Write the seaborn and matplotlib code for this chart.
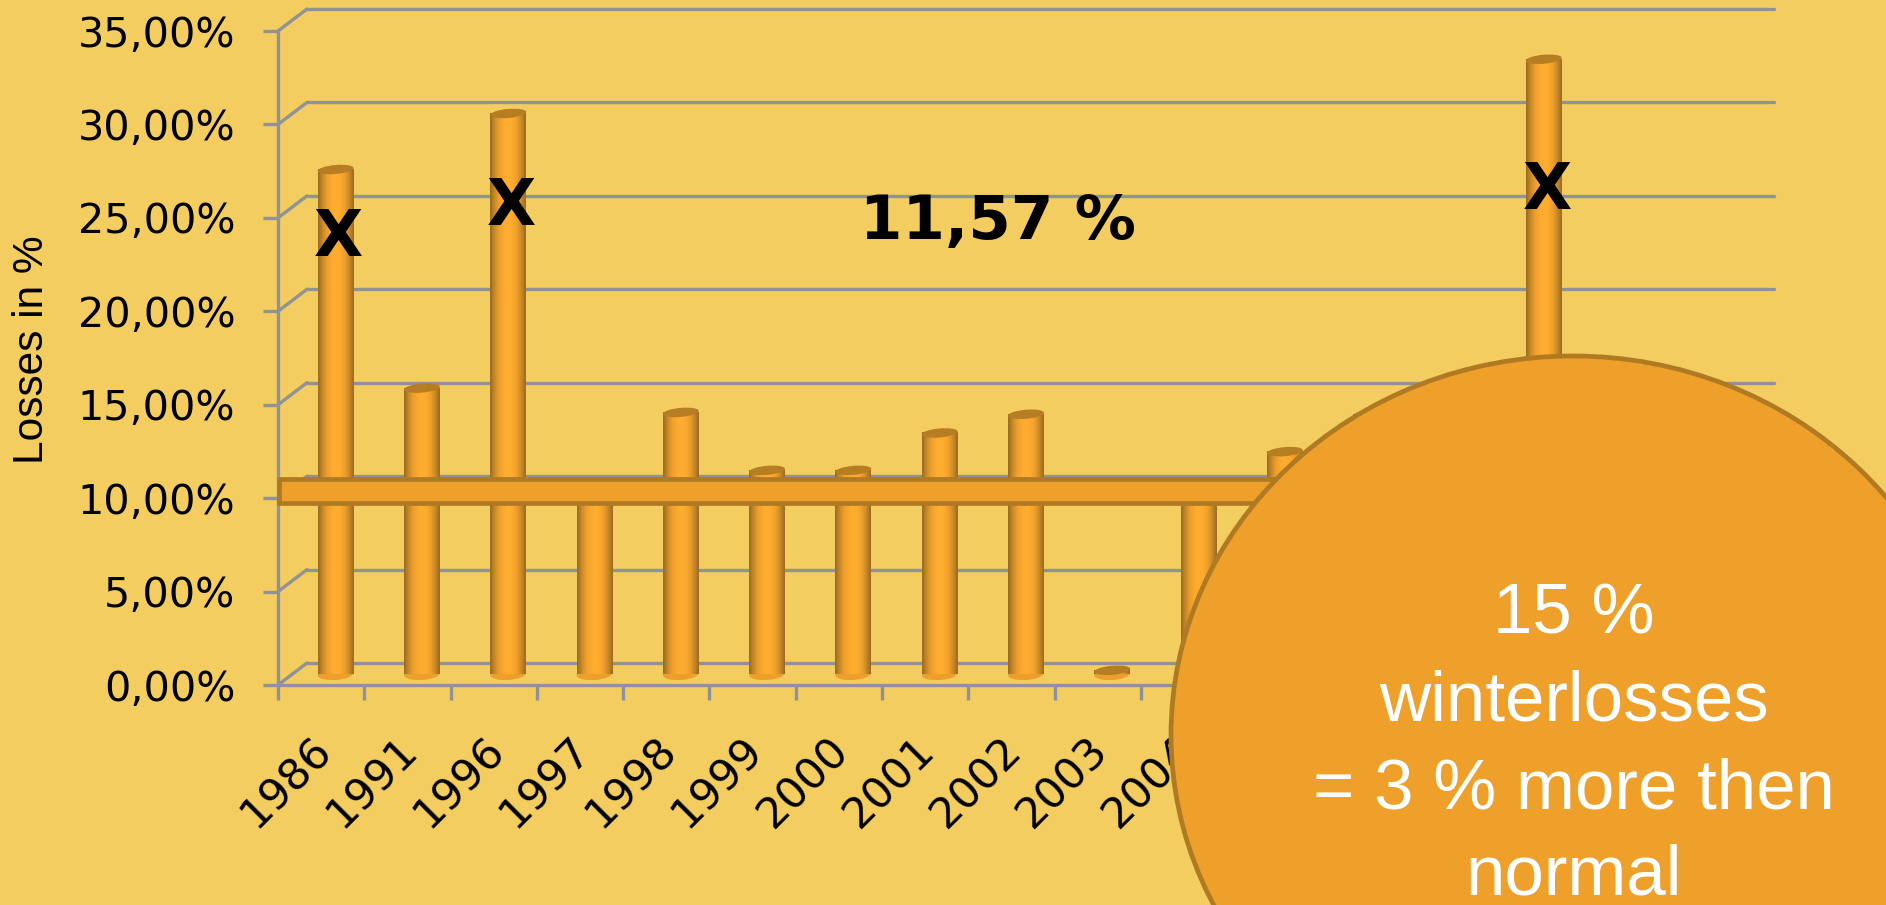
import numpy as np
import pandas as pd
import seaborn as sns
import matplotlib.pyplot as plt
from matplotlib.patches import Ellipse, Rectangle
from matplotlib.transforms import Affine2D, IdentityTransform

years = ['1986', '1991', '1996', '1997', '1998', '1999', '2000', '2001', '2002',
         '2003', '2004', '2005', '2006', '2007', '2008', '2009', '2010']
losses = [27.0, 15.3, 30.0, 10.2, 14.0, 10.9, 10.9, 12.9, 13.9,
          0.2, 10.2, 11.9, 13.9, 12.0, 32.9, 9.0, 11.0]
y_ticks = [0, 5, 10, 15, 20, 25, 30, 35]
y_labels = ['0,00%', '5,00%', '10,00%', '15,00%', '20,00%', '25,00%', '30,00%', '35,00%']
marked = ['1986', '1996', '2008']
mark_pos = [(338, 238), (511, 207), (1547, 191)]
circle_lines = ['15 %', 'winterlosses', '= 3 % more then', 'normal']
circle_line_y = [615, 702, 790, 876]

W, H = 1886, 905
BG = '#F3CD60'
GREY = '#8F9296'
ORANGE = '#EEA02B'
BROWN = '#B07A22'

sns.set_theme(style='white')
plt.rcParams['font.family'] = ['DejaVu Sans']

fig = plt.figure(figsize=(W / 100, H / 100), dpi=100, facecolor=BG)
ax = fig.add_axes([278 / W, 1 - 685 / H, (1745 - 278) / W, (685 - 31) / H], facecolor='none')

df = pd.DataFrame({'year': years, 'loss': losses})
sns.barplot(data=df, x='year', y='loss', width=0.417, color=ORANGE, ax=ax, zorder=3)
ax.set_xlim(-0.5, 16.5)
ax.set_ylim(0, 35)

# walls of the 3d box, offset in pixels from the front plane
depth = Affine2D().translate(29, 22)
half_depth = Affine2D().translate(14.5, 11)
back = ax.transData + depth
for v in y_ticks:
    ax.plot([-0.5, 16.5], [v, v], color=GREY, lw=2.4, transform=back, clip_on=False, zorder=1)
    x0, y0 = ax.transData.transform((-0.5, v))
    ax.plot([x0, x0 + 29], [y0, y0 + 22], color=GREY, lw=2.4,
            transform=IdentityTransform(), clip_on=False, zorder=1)

# cylinders
stops = ['#9C6B22', '#C98A28', '#EE9F2C', '#FAA92F', '#FFAE30', '#FCAB2F', '#EE9F2C', '#C98A28', '#9C6B22']
gradient = np.array(sns.blend_palette(stops, 60))[None, :, :]
shifted = ax.transData + half_depth
for bar, v in zip(ax.patches, losses):
    cx = bar.get_x() + bar.get_width() / 2
    px, py = shifted.transform((cx, 0))
    tx, ty = shifted.transform((cx, v))
    bar_w = shifted.transform((bar.get_x() + bar.get_width(), 0))[0] - shifted.transform((bar.get_x(), 0))[0]
    bar.set_visible(False)
    ax.add_patch(Ellipse((px, py), bar_w, 12, angle=4, color='#EE9F2B', lw=0,
                         transform=IdentityTransform(), clip_on=False, zorder=2))
    im = ax.imshow(gradient, extent=(bar.get_x(), bar.get_x() + bar.get_width(), 0, v),
                   aspect='auto', transform=shifted, zorder=3, interpolation='bilinear')
    im.set_clip_on(False)
    ax.add_patch(Ellipse((tx, ty), bar_w, 9, angle=5, color='#B67D22', lw=0,
                         transform=IdentityTransform(), clip_on=False, zorder=3.5))
ax.set_xlim(-0.5, 16.5)
ax.set_ylim(0, 35)
ax.set_aspect('auto')

# axes
sns.despine(ax=ax)
for side in ['left', 'bottom']:
    ax.spines[side].set_color(GREY)
    ax.spines[side].set_linewidth(2.4)
ax.set_xlabel('')
ax.set_ylabel('')
ax.set_yticks(y_ticks)
ax.set_yticklabels(y_labels)
ax.tick_params(axis='y', left=True, length=10.8, width=2.4, color=GREY, pad=20,
               labelsize=29.7, labelcolor='black')
ax.set_xticks(np.arange(18) - 0.5)
ax.set_xticklabels([])
ax.set_xticks(np.arange(17), labels=years, minor=True)
ax.tick_params(axis='x', which='major', bottom=True, length=10.8, width=2.4, color=GREY)
ax.tick_params(axis='x', which='minor', bottom=False, length=0, pad=70, labelsize=31,
               labelcolor='black')
for label in ax.get_xticklabels(minor=True):
    label.set_rotation(45)
    label.set_ha('center')
    label.set_va('center')
    label.set_transform(label.get_transform() + Affine2D().translate(-35, 0))

ident = IdentityTransform()
fig.text(32 / W, 1 - 350 / H, 'Losses in %', rotation=90, ha='center', va='center', fontsize=30.5,
         family=['Liberation Sans Narrow', 'Liberation Sans'], color='black')

# average band and notes
ax.add_patch(Rectangle((279, H - 503), 1200, 24, facecolor=ORANGE, edgecolor=BROWN, lw=3.4,
                       transform=ident, clip_on=False, zorder=4))
ax.text(998, H - 222, '11,57 %', transform=ident, ha='center', va='center', fontsize=44,
        fontweight='bold', color='black', zorder=5)
for year, (mx, my) in zip(marked, mark_pos):
    ax.text(mx, H - my, 'X', transform=ident, ha='center', va='center', fontsize=46,
            fontweight='bold', color='black', zorder=5)

ax.add_patch(Ellipse((1573, H - 735), 804, 758, facecolor=ORANGE, edgecolor=BROWN, lw=3.4,
                     transform=ident, clip_on=False, zorder=10))
for line, ly in zip(circle_lines, circle_line_y):
    ax.text(1574, H - ly, line, transform=ident, ha='center', va='center', fontsize=51,
            family='Liberation Sans', color='white', zorder=11)

fig.savefig('out.png', dpi=100, facecolor=BG)
